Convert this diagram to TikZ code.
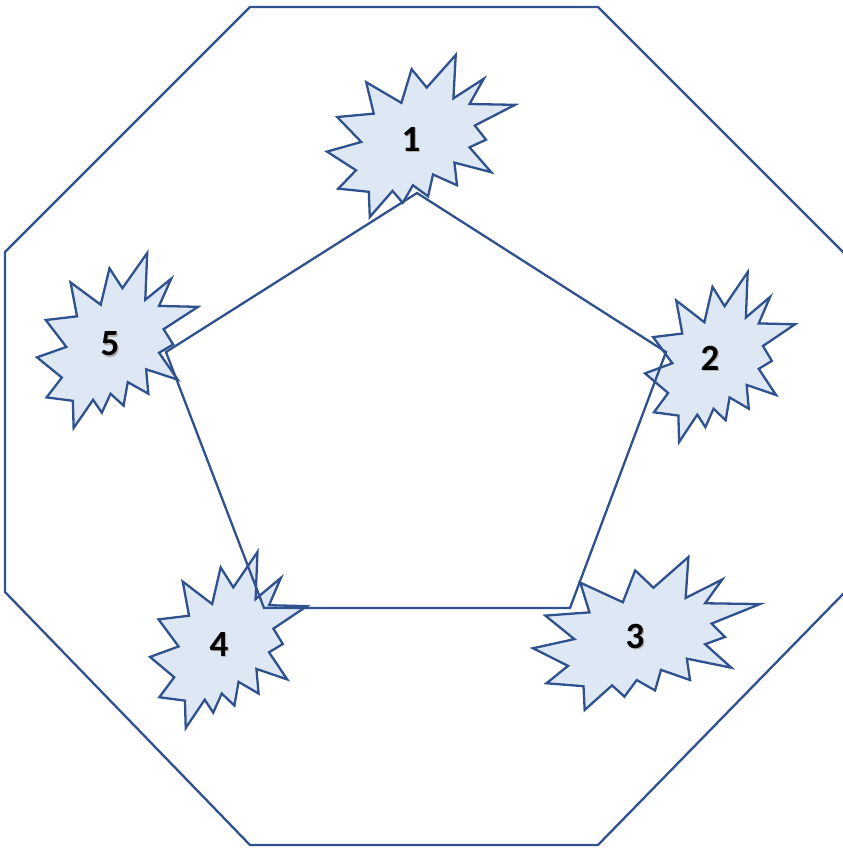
\documentclass[tikz,border=0pt]{standalone}
\usepackage{fontspec}
\setmainfont{Carlito}
\definecolor{lineblue}{HTML}{2F528F}
\definecolor{fillblue}{HTML}{DEE8F5}
\tikzset{
  outline/.style={draw=lineblue, line width=2.3pt, line join=miter},
  burststyle/.style={outline, fill=fillblue},
  numlabel/.style={font=\bfseries\fontsize{37}{37}\selectfont, inner sep=0pt, text=black},
  numshadow/.style={font=\bfseries\fontsize{37}{37}\selectfont, inner sep=0pt, text=black!30},
}
\newcommand\burstshape{%
  \path[burststyle] (53.06,20.10) -- (68.47,0) -- (67.25,26.75) -- (83.37,14.69)
    -- (75.83,30.24) -- (100,30.76) -- (78.63,43.53) -- (84.58,52.27)
    -- (75.83,56.99) -- (87.39,72.37) -- (67.78,66.44) -- (69.18,80.42)
    -- (56.39,73.77) -- (53.76,87.23) -- (45.70,80.42) -- (40.28,91.26)
    -- (34.85,83.91) -- (22.76,100) -- (22.25,84.44) -- (5.95,82.52)
    -- (15.42,71.16) -- (0,59.62) -- (18.22,53.67) -- (5.43,38.29)
    -- (24.87,36.19) -- (20.84,16.78) -- (39.58,29.55) -- (45.01,8.74) -- cycle;}
\newcommand\burstat[4]{%
  \begin{scope}[shift={(#1,#2)}, xscale=#3/100, yscale=#4/100]
    \burstshape
  \end{scope}}
\newcommand\numat[4]{%
  \node[numshadow] at ($(#2,#3)+(1.2,1.5)$) {#4};
  \node[numlabel] (#1) at (#2,#3) {#4};}
\usetikzlibrary{calc}
\begin{document}
\begin{tikzpicture}[x=1pt, y=-1pt]
  \useasboundingbox (0,0) rectangle (843,852);
  \clip (0,0) rectangle (843,852);
  % octagon
  \draw[outline] (250,7) coordinate (o1) -- (598,7) coordinate (o2)
    -- (845,254) coordinate (o3) -- (845,592) coordinate (o4)
    -- (598,845) coordinate (o5) -- (250,845) coordinate (o6)
    -- (5,592) coordinate (o7) -- (5,252) coordinate (o8) -- cycle;
  % bursts
  \burstat{327}{55}{188}{162}
  \burstat{645}{272}{150}{170}
  \burstat{533}{557}{227}{153}
  \burstat{150}{552}{157}{176}
  \burstat{37}{253}{161}{175}
  % pentagon
  \coordinate (p1) at (417,193);
  \coordinate (p2) at (666,352);
  \coordinate (p3) at (570,608);
  \coordinate (p4) at (264,608);
  \coordinate (p5) at (166,352);
  \draw[outline] (p1) -- (p2) -- (p3) -- (p4) -- (p5) -- cycle;
  % labels
  \numat{n1}{411}{139}{1}
  \numat{n2}{710}{358}{2}
  \numat{n3}{635}{636}{3}
  \numat{n4}{219}{644}{4}
  \numat{n5}{110}{344}{5}
\end{tikzpicture}
\end{document}
